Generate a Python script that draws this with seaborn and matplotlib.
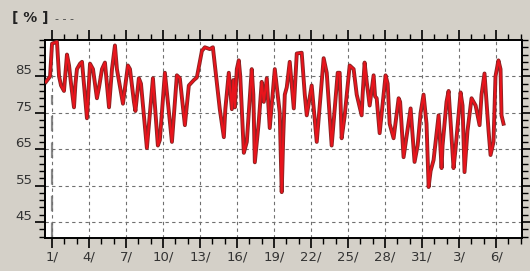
import numpy as np
import pandas as pd
import seaborn as sns
import matplotlib.pyplot as plt
import matplotlib.patheffects as pe
import matplotlib.transforms as mtransforms
from matplotlib.ticker import FixedLocator

# day index (1 = 1st of the month, 32 = 1st of next month), humidity [%]
day = [0.51, 0.84, 1.00, 1.40, 1.57, 1.73, 1.97, 2.21, 2.38, 2.54, 2.78, 2.90,
       3.02, 3.27, 3.43, 3.83, 4.08, 4.32, 4.64, 4.81, 5.05, 5.29, 5.62, 5.86,
       6.10, 6.26, 6.75, 7.15, 7.32, 7.64, 7.76, 8.04, 8.21, 8.69, 9.18, 9.58,
       9.74, 10.15, 10.72, 11.12, 11.36, 11.77, 12.09, 12.50, 12.74, 13.15, 13.39,
       13.79, 14.04, 14.36, 14.60, 14.93, 15.05, 15.33, 15.58, 15.70, 15.82, 15.98,
       16.14, 16.26, 16.55, 16.79, 17.19, 17.32, 17.44, 17.76, 18.00, 18.17, 18.41,
       18.65, 19.06, 19.46, 19.62, 19.74, 19.87, 20.03, 20.27, 20.60, 20.84, 21.24,
       21.49, 21.65, 22.05, 22.46, 23.02, 23.27, 23.67, 24.16, 24.32, 24.48, 24.72,
       25.13, 25.45, 25.70, 26.10, 26.18, 26.34, 26.51, 26.75, 27.07, 27.19, 27.32,
       27.56, 28.04, 28.21, 28.37, 28.69, 29.10, 29.22, 29.50, 30.07, 30.39, 30.64,
       30.88, 31.12, 31.36, 31.53, 31.69, 31.93, 32.34, 32.58, 32.66, 32.98, 33.15,
       33.55, 33.71, 34.12, 34.28, 34.44, 34.68, 35.01, 35.34, 35.66, 35.82, 36.06,
       36.39, 36.55, 36.79, 36.95, 37.19, 37.36, 37.44, 37.60]
rh = [83.5, 85, 94, 94.5, 85, 82.5, 81, 91, 88, 83, 76.5, 83,
      87, 88.5, 89, 73.5, 88.5, 87, 79, 82, 87, 88.8, 76.5, 87,
      93.5, 87, 77.5, 88, 87, 78, 75.5, 84.5, 83, 65.3, 84.5, 66,
      67.5, 86, 67, 85.3, 84.5, 71.6, 82.5, 84, 84.7, 92, 93,
      92.5, 93, 83.3, 76, 68.3, 76, 86, 76, 84, 76.5, 87,
      89.4, 85, 64, 67, 87, 80, 61.4, 72.5, 83.5, 78, 84.5,
      70.8, 87, 75, 53.2, 68, 80, 82, 89, 76.2, 91.3, 91.5,
      80, 74.3, 82.5, 67, 90, 86, 66, 86, 86, 68, 74,
      88, 87, 80, 74.3, 80, 88.8, 83.5, 77, 85.3, 79.5, 79,
      69.4, 85.3, 83, 72, 68, 79, 78, 62.8, 76.2, 61.5, 66,
      75, 80, 72, 54.6, 59, 62, 74.3, 59.8, 66, 78, 81,
      59.8, 65, 80.6, 77, 58.7, 70, 79, 77, 71.6, 80, 85.8,
      70, 63.4, 67, 85, 89.4, 87, 74.3, 72]

tick_days = [1, 4, 7, 10, 13, 16, 19, 22, 25, 28, 31, 34, 37]
tick_labels = ['1/', '4/', '7/', '10/', '13/', '16/', '19/', '22/', '25/', '28/', '31/', '3/', '6/']
y_ticks = [45, 55, 65, 75, 85]

df = pd.DataFrame({'day': day, 'rh': rh})

fig = plt.figure(figsize=(5.30, 2.71), dpi=100, facecolor='#d4d0c8')
ax = fig.add_axes([45 / 530, 1 - 238 / 271, 477 / 530, 198 / 271])
ax.set_facecolor('white')

# odd long-dash marker line on the first day
ax.axvline(1, ymin=0, ymax=0.72, color='#8a8a8a', linewidth=1.6,
           linestyle=(0, (7, 5)), zorder=1)

sns.lineplot(data=df, x='day', y='rh', ax=ax, color='#e8141c', linewidth=1.5,
             estimator=None, sort=False, zorder=3,
             path_effects=[pe.Stroke(linewidth=2.8, foreground='#8a2424'), pe.Normal()])

ax.set_xlim(0.43, 39.1)
ax.set_ylim(40.6, 95)
ax.set_xlabel('')
ax.set_ylabel('')

ax.set_xticks(tick_days)
ax.set_xticklabels(tick_labels)
ax.xaxis.set_minor_locator(FixedLocator(np.arange(1, 40, 1)))
ax.set_yticks(y_ticks)
ax.yaxis.set_minor_locator(FixedLocator(np.arange(41, 96, 2)))

ax.grid(True, which='major', color='#707070', linestyle=(0, (3, 3)), linewidth=0.8)

ax.tick_params(which='both', direction='out', color='black', top=True, right=True,
               labeltop=False, labelright=False)
ax.tick_params(which='major', length=7, width=1.2, labelsize=9.5, labelcolor='#333333', pad=2)
ax.tick_params(which='minor', length=4, width=1.0)
for s in ax.spines.values():
    s.set_linewidth(1.4)
    s.set_color('black')

# y labels sit a little above their grid lines in the original
shift = mtransforms.ScaledTranslation(0, 5 / 72, fig.dpi_scale_trans)
for lab in ax.get_yticklabels():
    lab.set_transform(lab.get_transform() + shift)

fig.text(12 / 530, 1 - 18 / 271, '[ % ]', fontsize=10, fontweight='bold', color='#222222',
         va='center', ha='left')
fig.text(55 / 530, 1 - 19 / 271, '- - -', fontsize=8, color='#444444', va='center', ha='left')

fig.savefig('out.png', dpi=100, facecolor=fig.get_facecolor())
